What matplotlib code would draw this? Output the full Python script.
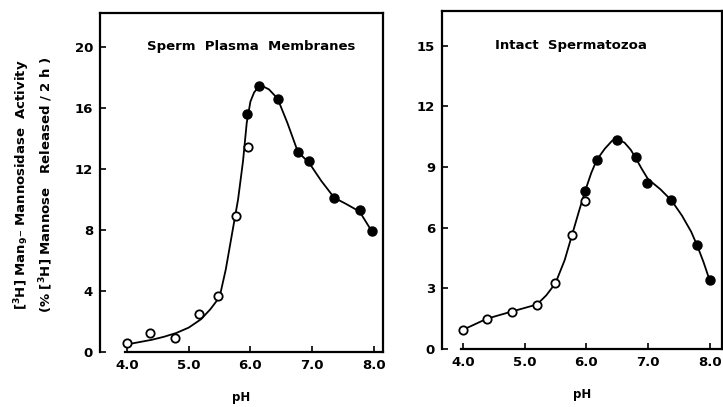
import matplotlib
matplotlib.use('Agg')
import matplotlib.pyplot as plt

plt.rcParams['font.family'] = 'DejaVu Sans'
plt.rcParams['font.weight'] = 'bold'
plt.rcParams['axes.labelweight'] = 'bold'
plt.rcParams['mathtext.default'] = 'bf'

# Sperm plasma membranes
pm_open_ph = [4.0, 4.37, 4.77, 5.17, 5.48, 5.76, 5.96]
pm_open_act = [0.6, 1.25, 0.95, 2.5, 3.7, 8.9, 13.4]
pm_fill_ph = [5.94, 6.14, 6.44, 6.77, 6.95, 7.36, 7.77, 7.97]
pm_fill_act = [15.6, 17.4, 16.6, 13.1, 12.5, 10.1, 9.3, 7.9]
pm_curve_ph = [4.0, 4.2, 4.4, 4.6, 4.8, 5.0, 5.2, 5.35, 5.5, 5.6, 5.7, 5.8,
               5.88, 5.94, 6.0, 6.06, 6.12, 6.2, 6.3, 6.44, 6.6, 6.77,
               6.95, 7.15, 7.36, 7.55, 7.77, 7.97]
pm_curve_act = [0.5, 0.65, 0.8, 1.0, 1.25, 1.6, 2.15, 2.8, 3.6, 5.4, 7.7, 10.0,
                12.5, 15.0, 16.4, 17.0, 17.3, 17.4, 17.2, 16.6, 15.0, 13.1,
                12.4, 11.2, 10.1, 9.7, 9.2, 7.9]

# Intact spermatozoa
sz_open_ph = [4.0, 4.39, 4.79, 5.2, 5.5, 5.77, 5.98]
sz_open_act = [0.95, 1.5, 1.85, 2.2, 3.25, 5.65, 7.3]
sz_fill_ph = [5.98, 6.17, 6.5, 6.8, 6.98, 7.38, 7.8, 8.0]
sz_fill_act = [7.8, 9.35, 10.35, 9.5, 8.2, 7.35, 5.15, 3.4]
sz_curve_ph = [4.0, 4.39, 4.79, 5.2, 5.35, 5.5, 5.65, 5.77, 5.88, 5.98,
               6.08, 6.17, 6.3, 6.42, 6.52, 6.62, 6.72, 6.8, 6.9, 7.0,
               7.2, 7.38, 7.55, 7.7, 7.8, 7.9, 8.0]
sz_curve_act = [0.95, 1.5, 1.85, 2.2, 2.65, 3.25, 4.4, 5.65, 6.8, 7.8,
                8.7, 9.35, 9.9, 10.3, 10.35, 10.2, 9.85, 9.45, 8.9, 8.4,
                7.9, 7.35, 6.6, 5.8, 5.1, 4.3, 3.4]

panels = [
    dict(pos=[0.1383, 0.1351, 0.3914, 0.833], xlim=(3.56, 8.15), ylim=(0, 22.2),
         yticks=[0, 4, 8, 12, 16, 20], title='Sperm  Plasma  Membranes',
         tx=4.33, ty=20.0,
         curve=(pm_curve_ph, pm_curve_act), opn=(pm_open_ph, pm_open_act),
         fill=(pm_fill_ph, pm_fill_act)),
    dict(pos=[0.6113, 0.1425, 0.3873, 0.830], xlim=(3.66, 8.2), ylim=(0, 16.7),
         yticks=[0, 3, 6, 9, 12, 15], title='Intact  Spermatozoa',
         tx=4.52, ty=15.0,
         curve=(sz_curve_ph, sz_curve_act), opn=(sz_open_ph, sz_open_act),
         fill=(sz_fill_ph, sz_fill_act)),
]

fig = plt.figure(figsize=(7.23, 4.07), dpi=100)

for p in panels:
    ax = fig.add_axes(p['pos'])
    ax.plot(*p['curve'], color='black', lw=1.3, zorder=2)
    ax.plot(*p['opn'], 'o', ms=6, mfc='white', mec='black', mew=1.3, zorder=3)
    ax.plot(*p['fill'], 'o', ms=6.5, mfc='black', mec='black', zorder=3)
    ax.set_xlim(*p['xlim'])
    ax.set_ylim(*p['ylim'])
    ax.set_xticks([4, 5, 6, 7, 8])
    ax.set_xticklabels(['4.0', '5.0', '6.0', '7.0', '8.0'])
    ax.set_yticks(p['yticks'])
    ax.tick_params(direction='in', length=4, width=1.2, labelsize=9.5, pad=5)
    for s in ax.spines.values():
        s.set_linewidth(1.6)
    ax.spines['bottom'].set_bounds(3.97, p['xlim'][1])
    ax.text(p['tx'], p['ty'], p['title'], fontsize=9.5, va='center')
    ax.set_xlabel('pH', fontsize=8.5, labelpad=14)

fig.text(0.031, 0.545, r'[$^3$H] Man$_9$– Mannosidase  Activity', rotation=90,
         ha='center', va='center', fontsize=9.5)
fig.text(0.064, 0.545, r'(% [$^3$H] Mannose   Released / 2 h )', rotation=90,
         ha='center', va='center', fontsize=9.5)

plt.savefig('out.png', dpi=100)
plt.close()
